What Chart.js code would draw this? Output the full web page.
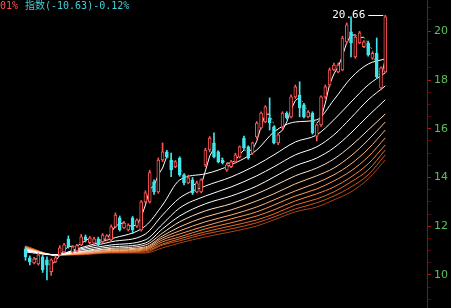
<!DOCTYPE html>
<html>
<head>
<meta charset="utf-8">
<script src="https://cdn.jsdelivr.net/npm/chart.js@4.4.1/dist/chart.umd.min.js"></script>
<style>
  html, body { margin: 0; padding: 0; background: #000; }
  #wrap { width: 451px; height: 308px; }
</style>
</head>
<body>
<div id="wrap"><canvas id="chart-kline" width="451" height="308"></canvas></div>
<script>
// daily candles
const opens = [11.07, 10.70, 10.49, 10.45, 10.74, 10.62, 10.13, 10.53, 10.82, 10.94,
    11.47, 10.94, 10.98, 11.23, 11.56, 11.32, 11.30, 11.48, 11.36, 11.44,
    11.44, 11.97, 12.34, 11.93, 11.85, 12.34, 12.00, 11.85, 13.00, 13.00,
    13.82, 13.41, 14.72, 15.05, 14.72, 14.44, 14.80, 14.11, 13.78, 13.90,
    13.41, 13.41, 14.52, 15.13, 15.42, 15.05, 14.72, 14.31, 14.44, 14.64,
    14.85, 15.62, 15.26, 15.00, 15.67, 16.04, 16.28, 16.45, 16.08, 15.42,
    16.08, 16.65, 16.49, 17.31, 17.39, 16.98, 16.49, 16.65, 15.70, 16.16,
    17.31, 17.80, 18.42, 18.34, 18.42, 19.57, 19.98, 18.95, 19.53, 19.37,
    19.53, 18.90, 19.10, 17.68, 18.34];
const highs = [11.15, 10.78, 10.72, 10.90, 10.80, 10.74, 10.66, 10.78, 11.20, 11.30,
    11.60, 11.20, 11.25, 11.66, 11.64, 11.58, 11.55, 11.55, 11.70, 11.66,
    12.05, 12.55, 12.42, 12.20, 12.10, 12.40, 12.30, 13.05, 13.45, 14.30,
    13.90, 14.80, 15.42, 15.12, 15.00, 14.70, 14.85, 14.15, 14.10, 14.00,
    13.85, 13.95, 15.20, 15.68, 15.83, 15.10, 14.80, 14.60, 14.70, 15.00,
    15.30, 15.70, 15.30, 15.45, 16.30, 16.70, 16.95, 17.27, 16.12, 15.80,
    16.70, 16.70, 17.40, 17.80, 17.93, 17.05, 16.75, 16.70, 16.20, 17.35,
    17.80, 18.50, 18.70, 18.70, 19.80, 20.35, 20.60, 19.85, 20.00, 19.62,
    19.60, 19.15, 19.73, 18.55, 20.66];
const lows = [10.60, 10.41, 10.45, 10.40, 10.10, 9.79, 9.98, 10.50, 10.78, 10.90,
    11.10, 10.90, 10.94, 11.20, 11.35, 11.28, 11.25, 11.20, 11.30, 11.40,
    11.40, 11.93, 11.80, 11.90, 11.80, 11.70, 11.95, 11.80, 12.95, 12.95,
    13.30, 13.35, 14.65, 14.80, 14.03, 14.40, 14.05, 13.70, 13.74, 13.30,
    13.37, 13.37, 14.45, 15.05, 14.80, 14.60, 14.55, 14.25, 14.40, 14.60,
    14.80, 15.15, 14.75, 14.95, 15.60, 16.00, 16.25, 15.95, 15.38, 15.35,
    16.00, 16.40, 16.45, 17.25, 16.49, 16.45, 16.45, 15.78, 15.50, 16.10,
    17.25, 17.75, 18.38, 18.30, 18.38, 19.50, 18.95, 18.90, 19.50, 19.33,
    18.98, 18.85, 18.08, 17.60, 18.30];
const closes = [10.74, 10.53, 10.66, 10.82, 10.21, 10.40, 10.62, 10.70, 11.11, 11.23,
    11.15, 11.15, 11.20, 11.56, 11.44, 11.52, 11.48, 11.23, 11.64, 11.60,
    11.97, 12.46, 11.85, 12.13, 12.05, 11.85, 12.25, 13.00, 13.37, 14.20,
    13.41, 14.72, 15.05, 14.85, 14.31, 14.64, 14.11, 13.78, 13.99, 13.37,
    13.78, 13.90, 15.13, 15.62, 14.85, 14.64, 14.60, 14.52, 14.64, 14.93,
    15.26, 15.21, 14.80, 15.42, 16.24, 16.65, 16.90, 16.24, 15.42, 15.75,
    16.65, 16.45, 17.31, 17.72, 16.86, 16.49, 16.69, 15.83, 16.16, 17.31,
    17.72, 18.42, 18.62, 18.62, 19.73, 20.27, 19.53, 19.77, 19.94, 19.57,
    19.03, 19.10, 18.13, 18.50, 20.60];

// short average, one value per candle
const maFast = [null, null, 10.64, 10.67, 10.56, 10.48, 10.41, 10.57, 10.81, 11.01,
    11.16, 11.18, 11.17, 11.30, 11.40, 11.51, 11.48, 11.41, 11.45, 11.49,
    11.74, 12.01, 12.09, 12.15, 12.01, 12.01, 12.05, 12.37, 12.87, 13.52,
    13.66, 14.11, 14.39, 14.87, 14.74, 14.60, 14.35, 14.18, 13.96, 13.71,
    13.71, 13.68, 14.27, 14.88, 15.20, 15.04, 14.70, 14.59, 14.59, 14.70,
    14.94, 15.13, 15.09, 15.14, 15.49, 16.10, 16.60, 16.60, 16.19, 15.80,
    15.94, 16.28, 16.80, 17.16, 17.30, 17.02, 16.68, 16.34, 16.23, 16.43,
    17.06, 17.82, 18.25, 18.55, 18.99, 19.54, 19.84, 19.86, 19.75, 19.76,
    19.51, 19.23, 18.45, 18.09, 18.87];

// slower averages, read at these candle positions
const maIdx = [0, 7, 12, 20, 28, 32, 36, 42, 48, 54, 58, 63, 68, 72, 76, 80, 84];
const ma1 = [10.94, 10.82, 11.07, 11.48, 12.01, 12.87, 13.90, 14.15, 14.52, 15.13, 15.87, 16.28, 16.37, 17.19, 18.09, 18.66, 18.87];
const ma2 = [10.99, 10.82, 11.03, 11.36, 11.68, 12.46, 13.16, 13.65, 14.02, 14.52, 14.93, 15.46, 15.75, 16.37, 17.10, 17.80, 18.30];
const ma3 = [11.01, 10.82, 10.99, 11.23, 11.44, 12.09, 12.75, 13.24, 13.61, 14.07, 14.44, 14.93, 15.26, 15.75, 16.45, 17.19, 17.76];
const ma4 = [11.03, 10.82, 10.94, 11.15, 11.31, 11.89, 12.42, 12.92, 13.24, 13.65, 14.02, 14.48, 14.80, 15.22, 15.83, 16.53, 17.19];
const ma5 = [11.05, 10.82, 10.92, 11.09, 11.23, 11.72, 12.18, 12.63, 12.92, 13.33, 13.65, 14.07, 14.39, 14.76, 15.30, 15.95, 16.61];
const ma6 = [11.07, 10.82, 10.90, 11.05, 11.15, 11.60, 11.97, 12.38, 12.67, 13.04, 13.33, 13.74, 14.07, 14.39, 14.89, 15.54, 16.28];
const ma7 = [11.09, 10.82, 10.88, 11.01, 11.11, 11.52, 11.81, 12.18, 12.46, 12.79, 13.08, 13.45, 13.78, 14.11, 14.56, 15.17, 15.95];
const ma8 = [11.11, 10.82, 10.86, 10.99, 11.07, 11.44, 11.68, 12.01, 12.30, 12.59, 12.87, 13.24, 13.53, 13.86, 14.27, 14.85, 15.63];
const ma9 = [11.13, 10.82, 10.86, 10.96, 11.03, 11.36, 11.56, 11.89, 12.14, 12.42, 12.67, 13.04, 13.33, 13.61, 14.02, 14.56, 15.34];
const ma10 = [11.15, 10.82, 10.84, 10.94, 10.99, 11.27, 11.48, 11.77, 12.01, 12.26, 12.50, 12.87, 13.12, 13.41, 13.82, 14.31, 15.13];
const ma11 = [11.17, 10.82, 10.84, 10.92, 10.94, 11.23, 11.40, 11.68, 11.89, 12.14, 12.38, 12.71, 12.96, 13.24, 13.61, 14.11, 14.93];
const ma12 = [11.19, 10.82, 10.82, 10.90, 10.90, 11.11, 11.31, 11.56, 11.77, 12.01, 12.26, 12.59, 12.79, 13.08, 13.41, 13.94, 14.72];

const priceLabels = [10, 12, 14, 16, 18, 20];
const headRed = '01%';
const headCyan = '指数(-10.63)-0.12%';

const UP = '#ff5454';
const DOWN = '#44e4ec';
const FALL = '#4caf50';
const slowLines = [ma1, ma2, ma3, ma4, ma5, ma6, ma7, ma8, ma9, ma10, ma11, ma12];
const slowColors = ['#ffffff', '#ffffff', '#ffffff', '#ffffff', '#ffe0c4', '#ffc898',
    '#ffb078', '#ff9a58', '#f58440', '#e46c2c', '#cc561e', '#ad4016'];

let isUp = closes.map((c, i) => c >= opens[i]);

let bodies = closes.map((c, i) => ({x: i, y: [opens[i], c]}));
let wicks = closes.map((c, i) => ({x: i, y: [lows[i], highs[i]]}));

let datasets = [
    {
        type: 'bar',
        data: bodies,
        grouped: false,
        barThickness: 3,
        borderWidth: 1,
        borderSkipped: false,
        borderColor: isUp.map(u => u ? UP : DOWN),
        backgroundColor: isUp.map(u => u ? '#000' : DOWN),
    },
    {
        type: 'bar',
        data: wicks,
        grouped: false,
        barThickness: 1,
        borderWidth: 0,
        backgroundColor: isUp.map(u => u ? UP : DOWN),
    },
    {
        type: 'line',
        data: maFast.map((v, i) => ({x: i, y: v})),
        borderColor: '#ffffff',
        borderWidth: 1,
        pointRadius: 0,
        segment: {
            borderColor: ctx => ctx.p1.parsed.y < ctx.p0.parsed.y ? FALL : undefined,
            borderDash: ctx => ctx.p1.parsed.y < ctx.p0.parsed.y ? [2, 2] : undefined,
        },
    },
];

slowLines.forEach((line, k) => {
    datasets.push({
        type: 'line',
        data: maIdx.map((x, j) => ({x: x, y: line[j]})),
        borderColor: slowColors[k],
        borderWidth: 1,
        pointRadius: 0,
        cubicInterpolationMode: 'monotone',
    });
});

const overlay = {
    id: 'overlay',
    afterDatasetsDraw(chart) {
        const ctx = chart.ctx;
        const xs = chart.scales.x;
        const ys = chart.scales.y;

        let top = 0;
        highs.forEach((h, i) => { if (h > highs[top]) top = i; });
        let px = xs.getPixelForValue(top);
        let py = Math.round(ys.getPixelForValue(highs[top])) + 0.5;

        ctx.save();
        ctx.strokeStyle = '#ffffff';
        ctx.lineWidth = 1;
        ctx.beginPath();
        ctx.moveTo(px - 17, py);
        ctx.lineTo(px - 2, py);
        ctx.stroke();
        ctx.fillStyle = '#ffffff';
        ctx.font = '11px "DejaVu Sans Mono"';
        ctx.textAlign = 'right';
        ctx.textBaseline = 'middle';
        ctx.fillText(highs[top].toFixed(2), px - 20, py);

        ctx.textAlign = 'left';
        ctx.textBaseline = 'top';
        ctx.font = '10px "DejaVu Sans Mono", "Noto Sans CJK SC"';
        ctx.fillStyle = UP;
        ctx.fillText(headRed, 0, 1);
        ctx.fillStyle = '#44d0d8';
        ctx.fillText(headCyan, 25, 1);
        ctx.restore();
    },
};

new Chart(document.getElementById('chart-kline'), {
    type: 'bar',
    data: { datasets: datasets },
    options: {
        responsive: false,
        animation: false,
        layout: { padding: 0 },
        plugins: {
            legend: { display: false },
            tooltip: { enabled: false },
        },
        scales: {
            x: {
                type: 'linear',
                display: false,
                min: -0.42,
                max: 88.2,
            },
            y: {
                position: 'right',
                min: 8.64,
                max: 21.29,
                afterFit(scale) {
                    scale.width = 24;
                    scale.paddingTop = 0;
                    scale.paddingBottom = 0;
                },
                border: { display: true, color: '#8c1010', width: 1 },
                grid: {
                    drawOnChartArea: false,
                    drawTicks: true,
                    tickLength: 4,
                    color: ctx => priceLabels.includes(ctx.tick.value) ? '#a01818' : '#5a0c0c',
                },
                ticks: {
                    stepSize: 0.5,
                    autoSkip: false,
                    includeBounds: false,
                    padding: 3,
                    color: '#5cc05c',
                    font: { family: 'DejaVu Sans', size: 11 },
                    callback: v => priceLabels.includes(v) ? String(v) : '',
                },
            },
        },
    },
    plugins: [overlay],
});
</script>
</body>
</html>
